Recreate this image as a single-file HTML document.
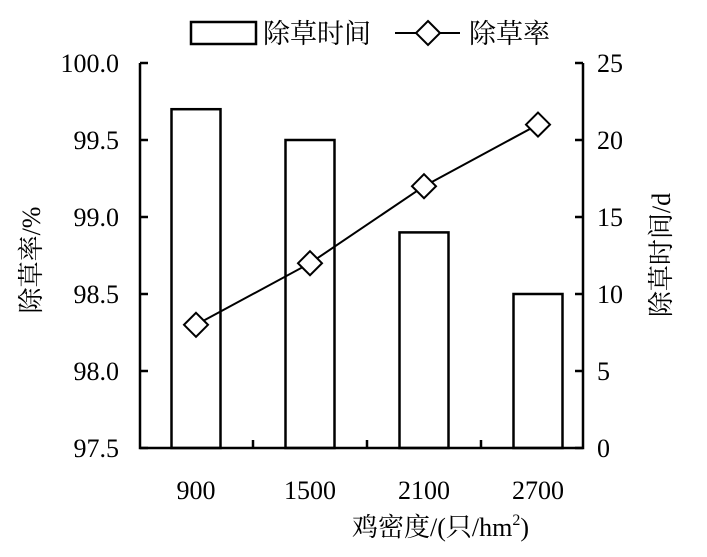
<!DOCTYPE html>
<html><head><meta charset="utf-8"><style>
body{margin:0;background:#fff}
svg text{font-family:"Liberation Serif","Noto Serif CJK SC",serif;fill:#000}
</style></head><body>
<svg id="c" width="707" height="552" viewBox="0 0 707 552" xmlns="http://www.w3.org/2000/svg"></svg>
<script>
const categories=["900","1500","2100","2700"];
const timeValues=[22,20,14,10];
const rateValues=[98.3,98.7,99.2,99.6];
const leftTicks=[97.5,98.0,98.5,99.0,99.5,100.0];
const rightTicks=[0,5,10,15,20,25];
const NS="http://www.w3.org/2000/svg";
const svg=document.getElementById('c');
const X0=140,X1=583,Y0=448,Y1=63,BAND=114;
const yL=v=>Y0-(v-97.5)/2.5*(Y0-Y1);
const yR=v=>Y0-v/25*(Y0-Y1);
const xC=i=>139+BAND*(i+0.5);
function mk(t,a,parent){const e=document.createElementNS(NS,t);for(const k in a)e.setAttribute(k,a[k]);(parent||svg).appendChild(e);return e;}
timeValues.forEach((v,i)=>{const r=mk('rect',{x:xC(i)-24.5,y:yR(v),width:49,height:Y0-yR(v),fill:'#fff',stroke:'#000','stroke-width':2.5});

});
const ax=mk('path',{d:`M${X0},${Y1}V${Y0}H${X1}V${Y1}`,fill:'none',stroke:'#000','stroke-width':2.5});


leftTicks.forEach(v=>{const y=yL(v);mk('line',{x1:X0,x2:X0+8,y1:y,y2:y,stroke:'#000','stroke-width':2.5});
const t=mk('text',{x:119,y:y+9,'text-anchor':'end','font-size':26});t.textContent=v.toFixed(1);

});
rightTicks.forEach(v=>{const y=yR(v);mk('line',{x1:X1-8,x2:X1,y1:y,y2:y,stroke:'#000','stroke-width':2.5});
const t=mk('text',{x:597,y:y+9,'font-size':26});t.textContent=v;

});
for(let i=1;i<categories.length;i++){const x=139+BAND*i;mk('line',{x1:x,x2:x,y1:Y0-8,y2:Y0,stroke:'#000','stroke-width':2.5});}
categories.forEach((c,i)=>{const t=mk('text',{x:xC(i),y:499,'text-anchor':'middle','font-size':26});t.textContent=c;

});
const pts=rateValues.map((v,i)=>xC(i)+','+yL(v)).join(' ');
const pl=mk('polyline',{points:pts,fill:'none',stroke:'#000','stroke-width':2});


rateValues.forEach((v,i)=>{const x=xC(i),y=yL(v);const d=mk('polygon',{points:`${x},${y-12} ${x+12},${y} ${x},${y+12} ${x-12},${y}`,fill:'#fff',stroke:'#000','stroke-width':2});

});
</script>
<svg style="position:absolute;left:0;top:0" width="707" height="552" xmlns="http://www.w3.org/2000/svg">
<g>
<rect x="191" y="22" width="65" height="22" fill="#fff" stroke="#000" stroke-width="2.5"/>
<text x="263" y="43" font-size="27">除草时间</text>
<line x1="395" y1="33" x2="460" y2="33" stroke="#000" stroke-width="2"/>
<polygon points="428,21 440,33 428,45 416,33" fill="#fff" stroke="#000" stroke-width="2"/>
<text x="469" y="43" font-size="27">除草率</text>
</g>
<text transform="translate(40,260) rotate(-90)" text-anchor="middle" font-size="26">除草率/%</text>
<text transform="translate(670,255) rotate(-90)" text-anchor="middle" font-size="26">除草时间/d</text>
<text x="352" y="536" font-size="26">鸡密度/(只/hm<tspan dy="-11" font-size="16">2</tspan><tspan dy="11">)</tspan></text>
</svg>
</body></html>
